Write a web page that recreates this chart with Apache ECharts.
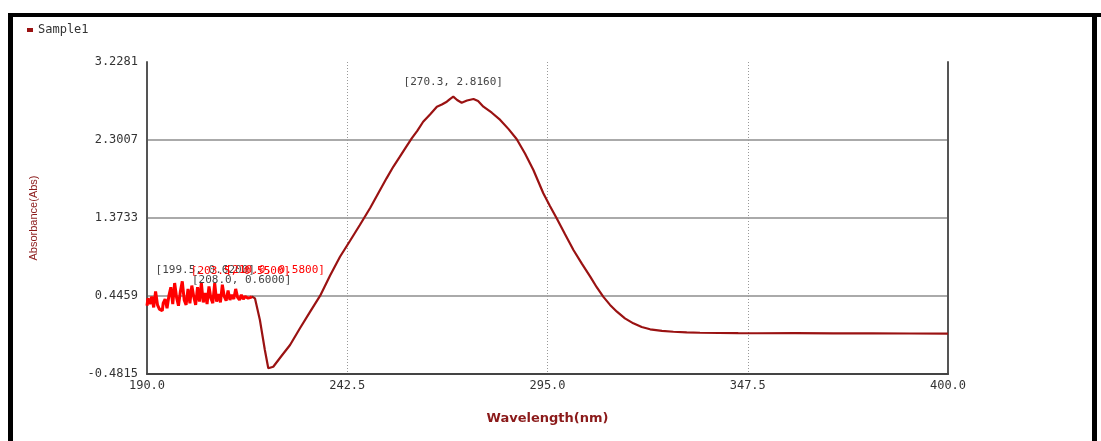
<!DOCTYPE html>
<html>
<head>
<meta charset="utf-8">
<script src="https://cdn.jsdelivr.net/npm/echarts@6/dist/echarts.min.js"></script>
<style>
html,body{margin:0;padding:0;background:#fff;}
#chart{width:1101px;height:441px;}
</style>
</head>
<body>
<div id="chart"></div>
<script>
// Noisy low-wavelength segment (nm, Abs)
const noiseWavelengths = [190.0,190.5,191.0,191.5,192.0,192.5,193.0,193.5,194.0,194.5,195.0,195.5,196.0,196.5,197.0,197.5,198.0,198.5,199.0,199.5,200.0,200.5,201.0,201.5,202.0,202.5,203.0,203.5,204.0,204.5,205.0,205.5,206.0,206.5,207.0,207.5,208.0,208.5,209.0,209.5,210.0,210.5,211.0,211.5,212.0,212.5,213.0,213.5,214.0,214.5,215.0,215.5,216.0,216.5,217.0,217.5];
const noiseAbs = [0.33,0.42,0.35,0.44,0.31,0.50,0.34,0.29,0.27,0.36,0.41,0.30,0.45,0.55,0.35,0.60,0.43,0.33,0.50,0.62,0.40,0.34,0.53,0.36,0.57,0.44,0.34,0.55,0.38,0.60,0.37,0.48,0.35,0.56,0.42,0.36,0.60,0.38,0.47,0.37,0.58,0.44,0.39,0.51,0.40,0.46,0.41,0.53,0.43,0.40,0.46,0.41,0.44,0.42,0.43,0.44];

// Main spectrum (nm, Abs)
const mainWavelengths = [217.5,218.3,219.6,220.9,221.8,223.1,225.3,227.5,230.1,232.7,235.4,238.0,240.6,243.2,245.8,248.5,251.1,252.8,254.6,256.3,257.9,259.4,260.9,262.4,264.2,266.0,267.3,268.6,269.5,270.3,271.3,272.5,273.9,275.6,276.8,278.2,280.4,282.6,284.8,286.9,289.1,291.3,293.9,295.6,297.4,299.6,301.8,304.0,306.2,307.9,309.6,311.4,313.2,315.3,317.5,319.7,321.9,325.0,328.0,331.5,335.0,340.0,345.0,350.0,360.0,370.0,380.0,390.0,400.0];
const mainAbs = [0.44,0.418,0.160,-0.196,-0.414,-0.395,-0.265,-0.137,0.062,0.255,0.450,0.690,0.913,1.100,1.290,1.492,1.706,1.845,1.985,2.102,2.215,2.321,2.412,2.518,2.605,2.697,2.722,2.756,2.790,2.816,2.776,2.744,2.770,2.788,2.764,2.697,2.625,2.539,2.430,2.313,2.140,1.944,1.667,1.520,1.370,1.180,0.993,0.830,0.676,0.550,0.438,0.340,0.259,0.180,0.121,0.078,0.050,0.032,0.021,0.014,0.009,0.006,0.004,0.003,0.005,0.002,0.001,0.000,-0.002];

// Axes
const xMin = 190.0, xMax = 400.0, xStep = 52.5;
const yMin = -0.4815, yMax = 3.2281, yStep = 0.9274;

// Annotations: [wavelength, absorbance]
const peakPoint = [270.3, 2.8160];
const leftPoints = [[199.5, 0.6200], [208.0, 0.6000], [203.5, 0.5500], [210.0, 0.5800]];

const seriesName = 'Sample1';
const darkRed = '#9a1212';
const brightRed = '#ff0000';

function pairs(xs, ys){ return xs.map((x,i)=>[x, ys[i]]); }
function fmtPt(p){ return '[' + p[0].toFixed(1) + ', ' + p[1].toFixed(4) + ']'; }

const chart = echarts.init(document.getElementById('chart'), null, {renderer:'canvas'});
const mono = 'DejaVu Sans Mono';
const leftOffsets = [[22,-11],[26,-3],[42,-16],[52,-15]];
const leftColors = ['#444','#444',brightRed,brightRed];

chart.setOption({
  backgroundColor:'#ffffff',
  animation:false,
  legend:{
    show:true, left:22, top:19, data:[{name:seriesName, icon:'rect'}],
    itemWidth:6, itemHeight:4, itemGap:2,
    textStyle:{color:'#333', fontFamily:mono, fontSize:12, padding:[10,0,0,0]}
  },
  grid:{left:147, right:153, top:62, bottom:67, containLabel:false},
  xAxis:{
    type:'value', min:xMin, max:xMax, interval:xStep,
    name:'Wavelength(nm)', nameLocation:'middle', nameGap:38,
    nameTextStyle:{color:'#8b1a1a', fontFamily:'DejaVu Sans', fontWeight:'bold', fontSize:13},
    axisLine:{show:true, onZero:false, lineStyle:{color:'#444', width:2}},
    axisTick:{show:false},
    axisLabel:{color:'#333', fontFamily:mono, fontSize:12, margin:6, formatter:v=>v.toFixed(1)},
    splitLine:{show:true, lineStyle:{color:['rgba(0,0,0,0)','#999','#999','#999','rgba(0,0,0,0)'], type:[1,2], width:1}}
  },
  yAxis:[{
    type:'value', min:yMin, max:yMax, interval:yStep,
    name:'Absorbance(Abs)', nameLocation:'middle', nameGap:108, nameRotate:90,
    nameTextStyle:{color:'#8b1a1a', fontFamily:'Liberation Sans', fontSize:11},
    axisLine:{show:true, onZero:false, lineStyle:{color:'#555', width:2}},
    axisTick:{show:false},
    axisLabel:{color:'#333', fontFamily:mono, fontSize:12, margin:9, formatter:v=>v.toFixed(4)},
    splitLine:{show:true, lineStyle:{color:['rgba(0,0,0,0)','#aaa','#aaa','#aaa','rgba(0,0,0,0)'], width:2}}
  },{
    type:'value', min:yMin, max:yMax, interval:yStep, position:'right',
    axisLine:{show:true, onZero:false, lineStyle:{color:'#555', width:2}},
    axisTick:{show:false}, axisLabel:{show:false}, splitLine:{show:false}
  }],
  series:[{
    name:seriesName, type:'line', data:pairs(noiseWavelengths, noiseAbs),
    step:'middle', showSymbol:false, color:darkRed,
    lineStyle:{color:brightRed, width:3}, z:3,
    markPoint:{
      symbol:'pin', symbolSize:0,
      data: leftPoints.map((p,i)=>({
        coord:p, value:fmtPt(p),
        label:{show:true, formatter:fmtPt(p), position:'inside',
          color:leftColors[i], fontFamily:mono, fontSize:11,
          offset:leftOffsets[i]}
      }))
    }
  },{
    name:seriesName, type:'line', data:pairs(mainWavelengths, mainAbs),
    showSymbol:false, color:darkRed,
    lineStyle:{color:darkRed, width:2.2}, z:4,
    markPoint:{
      symbol:'pin', symbolSize:0,
      data:[{coord:peakPoint, value:fmtPt(peakPoint),
        label:{show:true, formatter:fmtPt(peakPoint), position:'top', offset:[0,-4],
          color:'#444', fontFamily:mono, fontSize:11}}]
    }
  }],
  graphic:[
    {type:'rect', shape:{x:8, y:13, width:1093, height:4}, style:{fill:'#000'}, silent:true},
    {type:'rect', shape:{x:8, y:13, width:5, height:428}, style:{fill:'#000'}, silent:true},
    {type:'rect', shape:{x:1092, y:13, width:5, height:428}, style:{fill:'#000'}, silent:true}
  ]
});
</script>
</body>
</html>
